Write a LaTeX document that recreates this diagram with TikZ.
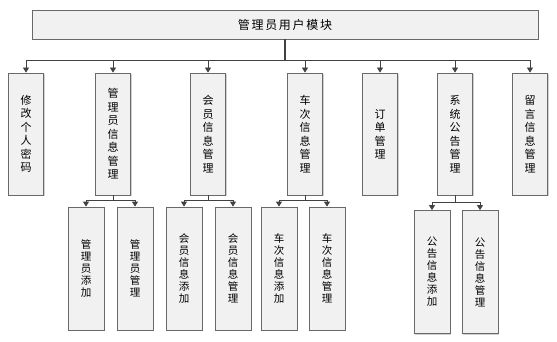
\documentclass[tikz,border=0pt]{standalone}
\usepackage{fontspec}
\setmainfont{Noto Sans CJK SC}
\usepackage{tikz}
\usetikzlibrary{
    arrows.meta,
    positioning,
    calc,
    shadows
}
\definecolor{boxLine}{RGB}{105,105,105}
\definecolor{boxFill}{RGB}{241,241,241}
\definecolor{linkGray}{RGB}{65,65,65}
\tikzset{
  mblock/.style  = {draw=boxLine, fill=boxFill, line width=0.8pt, inner sep=0pt,
                    minimum width=35pt, minimum height=122pt, align=center,
                    font=\fontsize{11pt}{13.5pt}\selectfont,
                    drop shadow={shadow xshift=1.2pt, shadow yshift=-1.2pt,
                                 fill=gray!60, opacity=0.6}},
  sblock/.style  = {mblock, minimum width=36pt, minimum height=123pt,
                    font=\fontsize{10.5pt}{12pt}\selectfont},
  tblock/.style  = {mblock, minimum width=506pt, minimum height=29pt,
                    font=\fontsize{12pt}{14pt}\selectfont\addfontfeature{LetterSpace=14}},
  arr/.style     = {-{Triangle[width=6pt,length=5pt]}, linkGray, line width=0.8pt},
  link/.style    = {linkGray, line width=0.8pt}
}

\begin{document}
\begin{tikzpicture}[x=1pt, y=-1pt]
    \useasboundingbox (0,0) rectangle (557,342);

    \node[tblock] (top) at (285,24.5) {管理员用户模块};

    \node[mblock] (m1) at (26,134)  {修\\改\\个\\人\\密\\码};
    \node[mblock] (m2) at (113,134) {管\\理\\员\\信\\息\\管\\理};
    \node[mblock] (m3) at (208,134) {会\\员\\信\\息\\管\\理};
    \node[mblock] (m4) at (305,134) {车\\次\\信\\息\\管\\理};
    \node[mblock] (m5) at (380,134) {订\\单\\管\\理};
    \node[mblock] (m6) at (455,134) {系\\统\\公\\告\\管\\理};
    \node[mblock] (m7) at (530,134) {留\\言\\信\\息\\管\\理};

    \node[sblock] (s1) at (86,268.5)  {管\\理\\员\\添\\加};
    \node[sblock] (s2) at (135,268.5) {管\\理\\员\\管\\理};
    \node[sblock] (s3) at (184,268.5) {会\\员\\信\\息\\添\\加};
    \node[sblock] (s4) at (233,268.5) {会\\员\\信\\息\\管\\理};
    \node[sblock] (s5) at (279,268.5) {车\\次\\信\\息\\添\\加};
    \node[sblock] (s6) at (327,268.5) {车\\次\\信\\息\\管\\理};
    \node[sblock] (s7) at (432,272)   {公\\告\\信\\息\\添\\加};
    \node[sblock] (s8) at (480,272)   {公\\告\\信\\息\\管\\理};

    \coordinate (bus) at (285,60);
    \draw[link, line width=1.6pt] (top.south) -- (bus);
    \draw[link] (m1.north |- bus) -- (m7.north |- bus);
    \draw[arr] (m1.north |- bus) -- (m1.north);
    \draw[arr] (m2.north |- bus) -- (m2.north);
    \draw[arr] (m3.north |- bus) -- (m3.north);
    \draw[arr] (m4.north |- bus) -- (m4.north);
    \draw[arr] (m5.north |- bus) -- (m5.north);
    \draw[arr] (m6.north |- bus) -- (m6.north);
    \draw[arr] (m7.north |- bus) -- (m7.north);

    \coordinate (j2) at ($(m2.south)+(0,5)$);
    \draw[link] (m2.south) -- (j2);
    \draw[link] (s1.north |- j2) -- (s2.north |- j2);
    \draw[arr] (s1.north |- j2) -- (s1.north);
    \draw[arr] (s2.north |- j2) -- (s2.north);

    \coordinate (j3) at ($(m3.south)+(0,5)$);
    \draw[link] (m3.south) -- (j3);
    \draw[link] (s3.north |- j3) -- (s4.north |- j3);
    \draw[arr] (s3.north |- j3) -- (s3.north);
    \draw[arr] (s4.north |- j3) -- (s4.north);

    \coordinate (j4) at ($(m4.south)+(0,5)$);
    \draw[link] (m4.south) -- (j4);
    \draw[link] (s5.north |- j4) -- (s6.north |- j4);
    \draw[arr] (s5.north |- j4) -- (s5.north);
    \draw[arr] (s6.north |- j4) -- (s6.north);

    \coordinate (j6) at ($(m6.south)+(0,7)$);
    \draw[link] (m6.south) -- (j6);
    \draw[link] (s7.north |- j6) -- (s8.north |- j6);
    \draw[arr] (s7.north |- j6) -- (s7.north);
    \draw[arr] (s8.north |- j6) -- (s8.north);
\end{tikzpicture}
\end{document}
